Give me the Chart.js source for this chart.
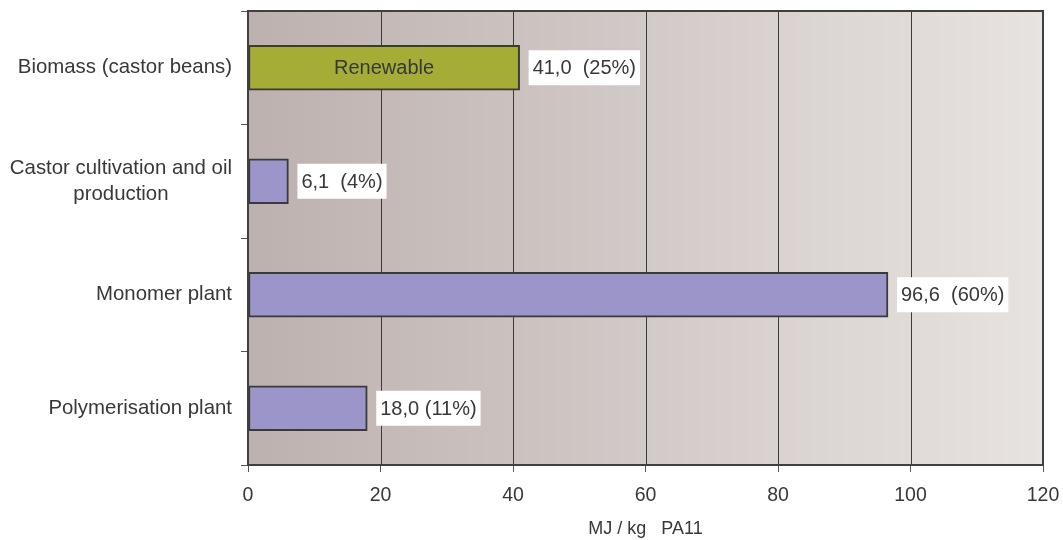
<!DOCTYPE html>
<html>
<head>
<meta charset="utf-8">
<script src="https://cdn.jsdelivr.net/npm/chart.js@4.4.1/dist/chart.umd.min.js"></script>
<style>
  html, body { margin: 0; padding: 0; background: #ffffff; }
  #wrap { width: 1063px; height: 540px; position: relative; }
</style>
</head>
<body>
<div id="wrap"><canvas id="chart" width="1063" height="540"></canvas></div>
<script>
// Energy demand per process step, MJ per kg of PA11
const categories = [
  ['Biomass (castor beans)'],
  ['Castor cultivation and oil', 'production'],
  ['Monomer plant'],
  ['Polymerisation plant']
];
const energyValues = [41.0, 6.1, 96.6, 18.0];
const valueLabels = ['41,0  (25%)', '6,1  (4%)', '96,6  (60%)', '18,0 (11%)'];
const insideLabels = ['Renewable', '', '', ''];
const barColors = ['#a5ad36', '#9b95c9', '#9b95c9', '#9b95c9'];
const xTicks = [0, 20, 40, 60, 80, 100, 120];
const xTitle = 'MJ / kg   PA11';

const FONT = '"Liberation Sans", Arial, sans-serif';
const TEXT = '#383838';

// Shaded plot background, darker on the left
const backgroundPlugin = {
  id: 'plotBackground',
  beforeDatasetsDraw(chart) {
    const { ctx, chartArea: a } = chart;
    const g = ctx.createLinearGradient(a.left, 0, a.right, 0);
    g.addColorStop(0, '#bdb1af');
    g.addColorStop(1, '#e7e3e1');
    ctx.save();
    ctx.fillStyle = g;
    ctx.fillRect(a.left, a.top, a.right - a.left, a.bottom - a.top);
    // vertical grid lines
    const x = chart.scales.x;
    ctx.strokeStyle = '#3a3a3a';
    ctx.lineWidth = 1;
    xTicks.forEach(v => {
      if (v === 0 || v === 120) return;
      const px = Math.round(x.getPixelForValue(v)) + 0.5;
      ctx.beginPath();
      ctx.moveTo(px, a.top);
      ctx.lineTo(px, a.bottom);
      ctx.stroke();
    });
    ctx.restore();
  }
};

// Category labels: right-aligned blocks, lines centred within a block
const categoryLabelPlugin = {
  id: 'categoryLabels',
  afterDraw(chart) {
    const { ctx } = chart;
    const y = chart.scales.y;
    ctx.save();
    ctx.font = '20.4px ' + FONT;
    ctx.fillStyle = TEXT;
    ctx.textAlign = 'center';
    ctx.textBaseline = 'middle';
    const right = y.right - 16;
    const lh = 26;
    categories.forEach((lines, i) => {
      const cy = y.getPixelForValue(i);
      const w = Math.max(...lines.map(l => ctx.measureText(l).width));
      const cx = right - w / 2;
      const top = cy - (lines.length - 1) * lh / 2;
      lines.forEach((l, j) => ctx.fillText(l, cx, top + j * lh));
    });
    ctx.restore();
  }
};

// Value boxes beside each bar, text inside the first bar, plot frame
const annotatePlugin = {
  id: 'annotate',
  afterDatasetsDraw(chart) {
    const { ctx, chartArea: a } = chart;
    const meta = chart.getDatasetMeta(0);
    ctx.save();
    ctx.font = '20px ' + FONT;
    ctx.textBaseline = 'middle';
    meta.data.forEach((bar, i) => {
      const txt = valueLabels[i];
      const w = ctx.measureText(txt).width;
      const bx = bar.x + 9;
      const bh = 35;
      const by = bar.y - bh / 2;
      ctx.fillStyle = '#ffffff';
      ctx.fillRect(bx, by, w + 8, bh);
      ctx.fillStyle = TEXT;
      ctx.textAlign = 'left';
      ctx.fillText(txt, bx + 4, bar.y + 1);
      if (insideLabels[i]) {
        ctx.textAlign = 'center';
        ctx.fillText(insideLabels[i], (bar.base + bar.x) / 2, bar.y + 1);
      }
    });
    // frame
    ctx.strokeStyle = '#404040';
    ctx.lineWidth = 2;
    ctx.strokeRect(a.left, a.top, a.right - a.left, a.bottom - a.top);
    ctx.restore();
  }
};

new Chart(document.getElementById('chart'), {
  type: 'bar',
  data: {
    labels: categories,
    datasets: [{
      data: energyValues,
      backgroundColor: barColors,
      borderColor: '#3a3a3a',
      borderWidth: 2,
      borderSkipped: false,
      barThickness: 45
    }]
  },
  options: {
    indexAxis: 'y',
    responsive: false,
    animation: false,
    layout: { padding: { left: 0, right: 20, top: 11, bottom: 0 } },
    plugins: { legend: { display: false }, tooltip: { enabled: false } },
    scales: {
      x: {
        min: 0, max: 120,
        afterBuildTicks(scale) { scale.ticks = xTicks.map(v => ({ value: v })); },
        afterFit(scale) { scale.height = 75; scale.paddingLeft = 0; scale.paddingRight = 0; },
        grid: { drawOnChartArea: false, drawTicks: true, tickLength: 7, color: '#555555' },
        border: { display: false },
        ticks: { color: TEXT, font: { family: FONT, size: 19.5 }, padding: 12, maxRotation: 0 },
        title: { display: true, text: xTitle, color: TEXT, font: { family: FONT, size: 18 }, padding: { top: 4, bottom: 0 } }
      },
      y: {
        afterFit(scale) { scale.width = 248; },
        grid: { drawOnChartArea: false, drawTicks: true, tickLength: 7, color: '#555555', offset: true },
        border: { display: false },
        ticks: { display: false }
      }
    }
  },
  plugins: [backgroundPlugin, categoryLabelPlugin, annotatePlugin]
});
</script>
</body>
</html>
